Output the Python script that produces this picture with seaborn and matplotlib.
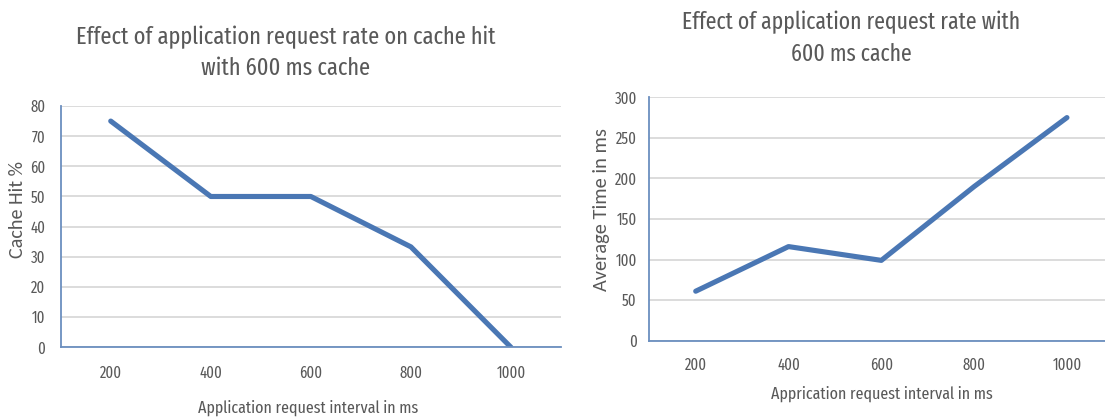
import matplotlib
matplotlib.use("Agg")
import matplotlib.pyplot as plt
import seaborn as sns
import pandas as pd

intervals = ["200", "400", "600", "800", "1000"]
cache_hit = [75, 50, 50, 33.3, 0]
avg_time = [61, 116, 99, 190, 275]

left_title = "Effect of application request rate on cache hit\nwith 600 ms cache"
right_title = "Effect of application request rate with\n600 ms cache"
left_xlabel = "Application request interval in ms"
right_xlabel = "Apprication request interval in ms"
left_ylabel = "Cache Hit %"
right_ylabel = "Average Time in ms"

sns.set_theme(style="white")
COND = ['Fira Sans Extra Condensed', 'DejaVu Sans']
plt.rcParams['font.family'] = COND

LINE = "#4a77b4"
GRID = "#d9d9d9"
SPINE = "#6b8fbf"
TXT = "#595959"

fig = plt.figure(figsize=(11.05, 4.19), dpi=100)
W, H = 1105, 419

def axes_px(x0, x1, ytop, ybot):
    return fig.add_axes([x0 / W, (H - ybot) / H, (x1 - x0) / W, (ybot - ytop) / H])

ax1 = axes_px(60.7, 561, 106, 347.3)
ax2 = axes_px(649.3, 1105, 97.3, 340.7)

df1 = pd.DataFrame({"x": intervals, "y": cache_hit})
df2 = pd.DataFrame({"x": intervals, "y": avg_time})

sns.lineplot(data=df1, x="x", y="y", ax=ax1, color=LINE, linewidth=3.7, sort=False)
sns.lineplot(data=df2, x="x", y="y", ax=ax2, color=LINE, linewidth=3.7, sort=False)

def style(ax, ymax, step, xr, xlabel, ylabel, xpad, ypad, xl_xy, yl_x, yl_size):
    ax.set_ylim(0, ymax)
    ax.set_yticks(range(0, ymax + 1, step))
    ax.set_xlim(-0.5, xr)
    ax.grid(axis="y", color=GRID, linewidth=1.3)
    ax.grid(axis="x", visible=False)
    ax.set_axisbelow(True)
    for s in ["top", "right"]:
        ax.spines[s].set_visible(False)
    for s in ["left", "bottom"]:
        ax.spines[s].set_color(SPINE)
        ax.spines[s].set_linewidth(1.3)
    ax.tick_params(axis="both", length=0, colors=TXT, labelsize=11.5)
    ax.tick_params(axis="x", pad=xpad)
    ax.tick_params(axis="y", pad=ypad)
    ax.set_xlabel(xlabel, color=TXT, fontsize=12.5)
    ax.set_ylabel(ylabel, color=TXT, fontsize=yl_size, family=['Carlito', 'DejaVu Sans'])
    ax.xaxis.set_label_coords(xl_xy[0] / W, (H - xl_xy[1]) / H, transform=fig.transFigure)
    ax.yaxis.set_label_coords(yl_x / W, 0.5, transform=fig.transFigure)
    ax.xaxis.label.set_va("center")
    ax.yaxis.label.set_va("center")
    ax.set_facecolor("white")

style(ax1, 80, 10, 4.5, left_xlabel, left_ylabel, 13, 11, (308, 407.5), 18, 14.5)
style(ax2, 300, 50, 4.41, right_xlabel, right_ylabel, 11.7, 9, (882, 393.7), 601.7, 14.7)

fig.text(286 / W, 1 - 52.5 / H, left_title, ha="center", va="center",
         fontsize=17.5, color=TXT, linespacing=1.42)
fig.text(851.5 / W, 1 - 38 / H, right_title, ha="center", va="center",
         fontsize=17, color=TXT, linespacing=1.45)

fig.savefig("out.png", dpi=100, facecolor="white")
